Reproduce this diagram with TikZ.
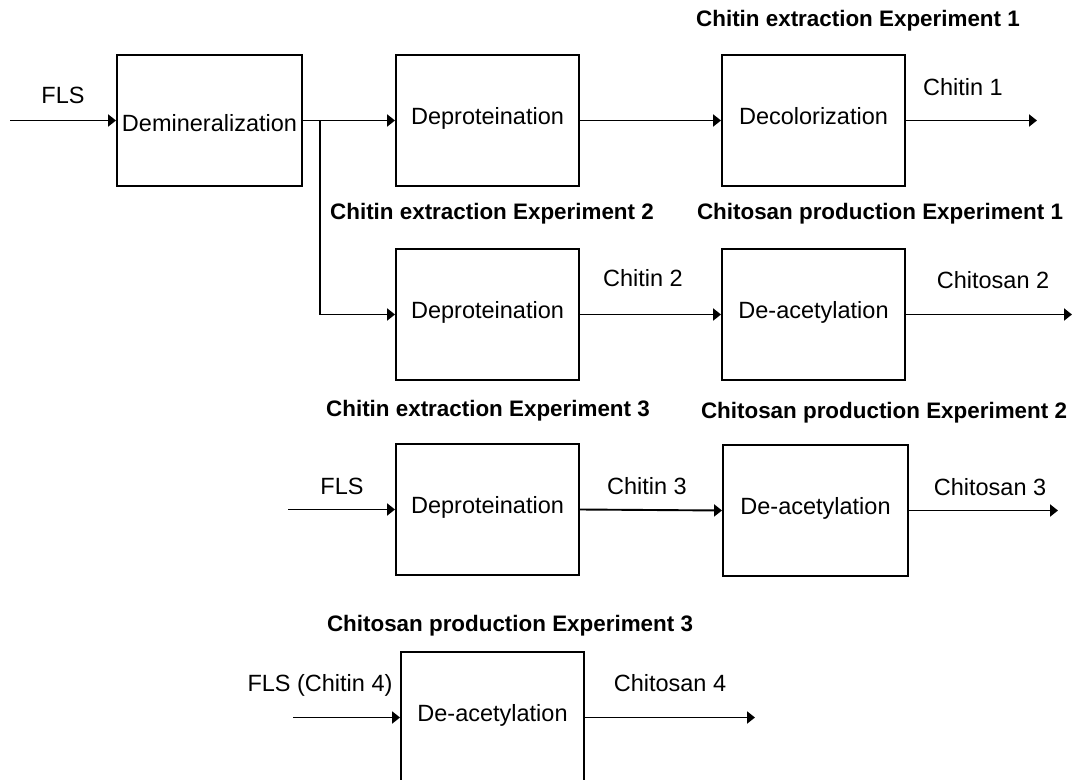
\documentclass[tikz,border=0pt]{standalone}
\usepackage{fontspec}
\setmainfont{Liberation Sans}
\usetikzlibrary{arrows.meta}
\begin{document}
\begin{tikzpicture}[x=1pt,y=1pt,
  box/.style={draw,line width=1.9pt,minimum width=183pt,minimum height=131pt,inner sep=0pt,
    font=\fontsize{23.5}{28}\selectfont,text height=0.72em,text depth=0pt},
  lbl/.style={inner sep=0pt,font=\fontsize{23.5}{28}\selectfont,text height=0.72em,text depth=0pt},
  ttl/.style={inner sep=0pt,font=\fontsize{22.4}{27}\selectfont\bfseries,text height=0.72em,text depth=0pt},
  flow/.style={line width=1.9pt,-{Triangle[length=8pt,width=12pt]}}]
\useasboundingbox (0,0) rectangle (1076,-779);
% boxes
\node[box,minimum width=185pt] (demin) at (209.5,-120.5) {};
\node[lbl] (demintext) at (209.5,-128) {Demineralization};
\node[box] (dep1) at (487.5,-120.5) {Deproteination};
\node[box] (decol) at (813.5,-120.5) {Decolorization};
\node[box] (dep2) at (487.5,-314.5) {Deproteination};
\node[box] (deac2) at (813.5,-314.5) {De-acetylation};
\node[box] (dep3) at (487.5,-509.5) {Deproteination};
\node[box,minimum width=185pt] (deac3) at (815.5,-510.5) {De-acetylation};
\node[box] (deac4) at (492.5,-717.5) {De-acetylation};
% titles
\node[ttl] (t1) at (858,-23) {Chitin extraction Experiment 1};
\node[ttl] (t2) at (492,-216) {Chitin extraction Experiment 2};
\node[ttl] (t3) at (880,-216) {Chitosan production Experiment 1};
\node[ttl] (t4) at (488,-413) {Chitin extraction Experiment 3};
\node[ttl] (t5) at (884,-415) {Chitosan production Experiment 2};
\node[ttl] (t6) at (510,-628) {Chitosan production Experiment 3};
% labels
\node[lbl] (l1) at (63,-100) {FLS};
\node[lbl] (l2) at (963,-92) {Chitin 1};
\node[lbl] (l3) at (643,-283) {Chitin 2};
\node[lbl] (l4) at (993,-285) {Chitosan 2};
\node[lbl] (l5) at (342,-491) {FLS};
\node[lbl] (l6) at (647,-491) {Chitin 3};
\node[lbl] (l7) at (990,-492) {Chitosan 3};
\node[lbl] (l8) at (320,-688) {FLS (Chitin 4)};
\node[lbl] (l9) at (670,-688) {Chitosan 4};
% coordinates
\coordinate (in1) at (10,-120.5);
\coordinate (br) at (320,-120.5);
\coordinate (out1) at (1037,-120.5);
\coordinate (out2) at (1072,-314.5);
\coordinate (in3) at (288,-509.5);
\coordinate (out3) at (1058,-510.5);
\coordinate (in4) at (293,-717.5);
\coordinate (out4) at (755,-717.5);
% connectors
\draw[flow] (in1) -- (demin.west);
\draw[flow] (demin.east) -- (dep1.west);
\draw[flow] (br) |- (dep2.west);
\draw[flow] (dep1.east) -- (decol.west);
\draw[flow] (decol.east) -- (out1);
\draw[flow] (dep2.east) -- (deac2.west);
\draw[flow] (deac2.east) -- (out2);
\draw[flow] (in3) -- (dep3.west);
\draw[flow] (dep3.east) -- (deac3.west);
\draw[flow] (deac3.east) -- (out3);
\draw[flow] (in4) -- (deac4.west);
\draw[flow] (deac4.east) -- (out4);
\end{tikzpicture}
\end{document}
